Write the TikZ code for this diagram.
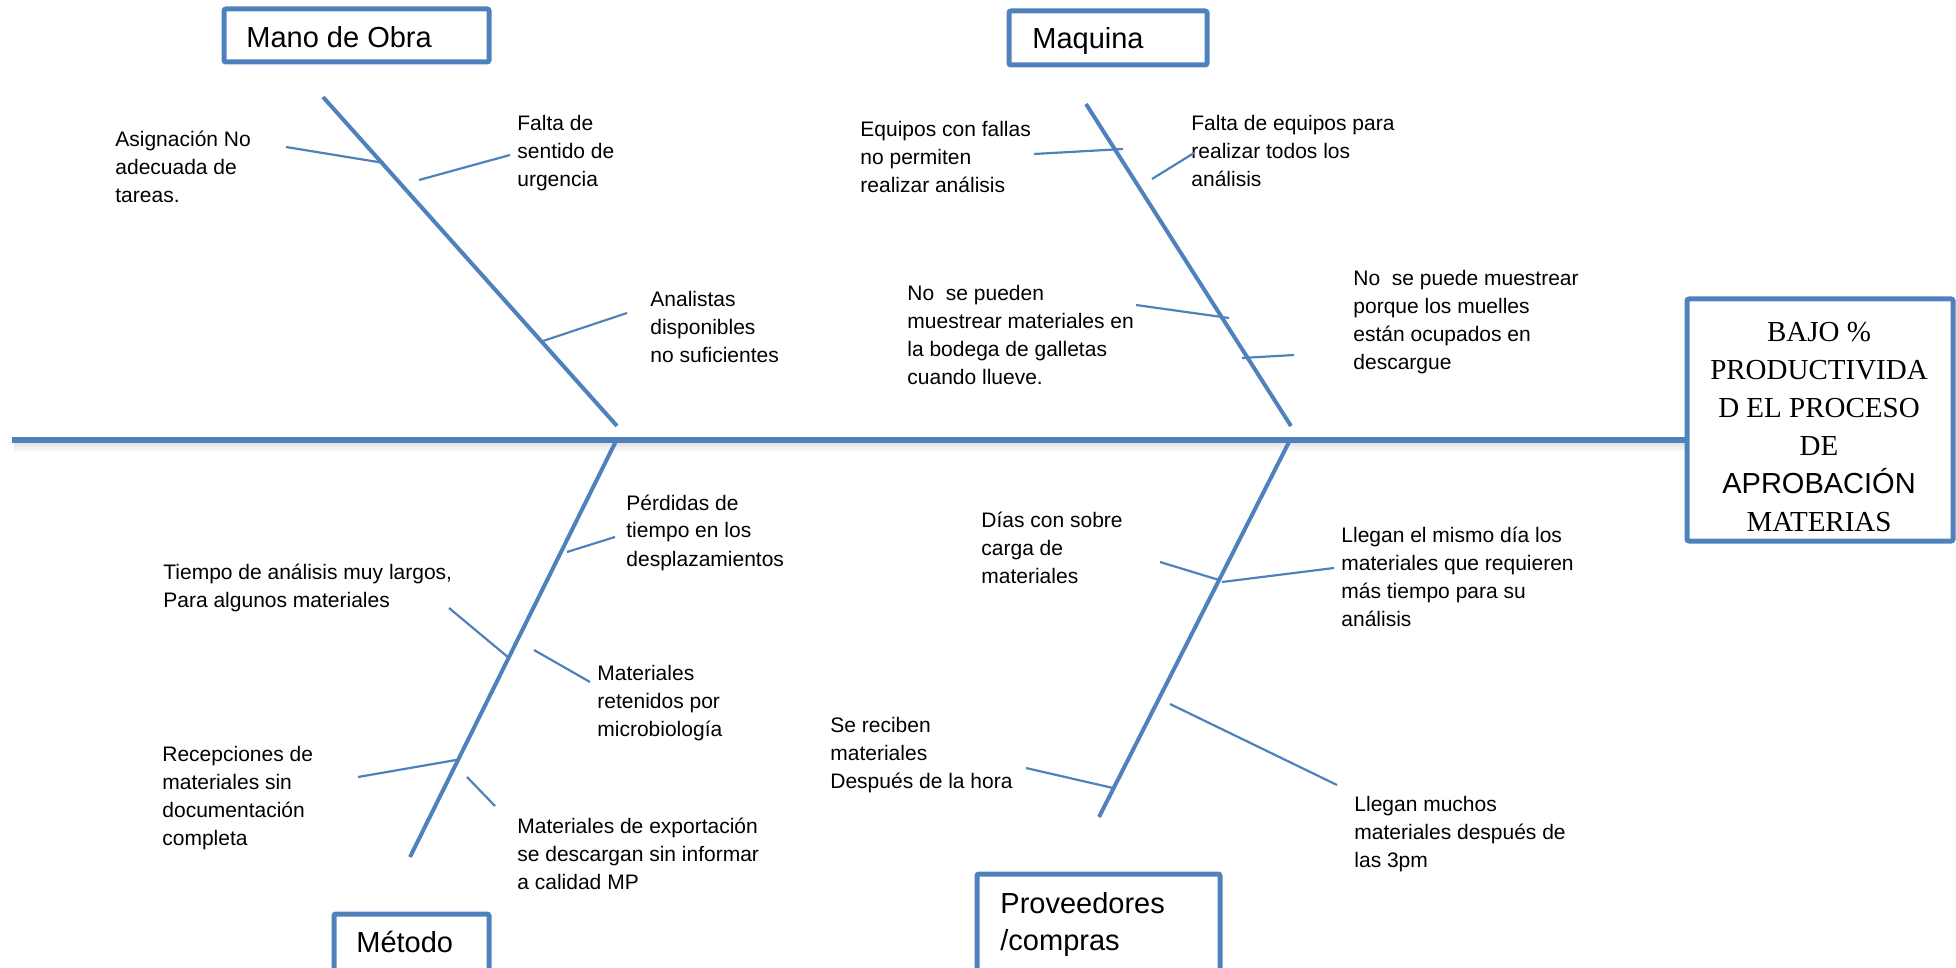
\documentclass[tikz,border=0pt]{standalone}
\usepackage{fontspec}
\setmainfont{Liberation Sans}
\newfontfamily\serifbox{Liberation Serif}
\newfontfamily\sansbox{Liberation Sans}
\definecolor{obBlue}{HTML}{4F81BD}
\begin{document}
% multi-line nodes are placed by the baseline of their last line
\begin{tikzpicture}[x=0.5pt,y=-0.5pt,
  bone/.style={draw=obBlue, line width=2.75pt},
  boneshadow/.style={draw=black, line width=1pt},
  rib/.style={draw=obBlue, line width=2pt},
  twig/.style={draw=obBlue, line width=1.1pt},
  catbox/.style={draw=obBlue, line width=2.5pt, rounded corners=1pt},
  cause/.style={anchor=base west, align=left, inner sep=0pt,
                font=\fontsize{10.5}{14}\selectfont},
  cat/.style={anchor=base west, align=left, inner sep=0pt,
              font=\fontsize{14.5}{18.5}\selectfont},
]
\clip (0,0) rectangle (1956,968);
\useasboundingbox (0,0) rectangle (1956,968);

% ---------- spine with a soft shadow ----------
\coordinate (tail) at (12,440);
\coordinate (head) at (1686,440);
\draw[boneshadow, opacity=0.10] (14,444) -- (1686,444);
\draw[boneshadow, opacity=0.08] (14,446) -- (1686,446);
\draw[boneshadow, opacity=0.05] (14,448) -- (1686,448);
\draw[boneshadow, opacity=0.03] (14,450) -- (1686,450);
\draw[bone] (tail) -- (head);

% ---------- effect box ----------
\draw[catbox] (1687,299) rectangle (1953,541);
\node (efecto) [anchor=base, align=center, inner sep=0pt,
  font=\serifbox\fontsize{14.5}{19}\selectfont] at (1819,531)
  {BAJO \%\\PRODUCTIVIDA\\D EL PROCESO\\DE\\{\sansbox APROBACIÓN}\\MATERIAS};

% ---------- category boxes ----------
\draw[catbox] (224,9) rectangle (489,62);
\node (mano) [cat] at (246,48) {Mano de Obra};

\draw[catbox] (1009,11) rectangle (1207,65);
\node (maquina) [cat] at (1032,49) {Maquina};

\draw[catbox] (334,914) rectangle (489,990);
\node (metodo) [cat] at (356,952) {Método};

\draw[catbox] (977,874) rectangle (1220,990);
\node (prov) [cat] at (1000,950) {Proveedores\\/compras};

% ---------- main ribs ----------
\coordinate (manoA) at (323,97);   \coordinate (manoB) at (617,426);
\coordinate (maqA) at (1086,104);  \coordinate (maqB) at (1291,426);
\coordinate (metA) at (616,441);   \coordinate (metB) at (410,857);
\coordinate (provA) at (1289,442); \coordinate (provB) at (1099,817);
\draw[rib] (manoA) -- (manoB);
\draw[rib] (maqA) -- (maqB);
\draw[rib] (metA) -- (metB);
\draw[rib] (provA) -- (provB);

% ---------- Mano de Obra causes ----------
\node (c11) [cause] at (115,203) {Asignación No\\adecuada de\\tareas.};
\node (c12) [cause] at (517,187) {Falta de\\sentido de\\urgencia};
\node (c13) [cause] at (650,363) {Analistas\\disponibles\\no suficientes};
\coordinate (t11a) at (286,147); \coordinate (t11b) at (384,163);
\coordinate (t12a) at (419,180); \coordinate (t12b) at (510,155);
\coordinate (t13a) at (543,341); \coordinate (t13b) at (627,313);
\draw[twig] (t11a) -- (t11b);
\draw[twig] (t12a) -- (t12b);
\draw[twig] (t13a) -- (t13b);

% ---------- Maquina causes ----------
\node (c21) [cause] at (860,193) {Equipos con fallas\\no permiten\\realizar análisis};
\node (c22) [cause] at (1191,187) {Falta de equipos para\\realizar todos los\\análisis};
\node (c23) [cause] at (907,385) {No\ \ se pueden\\muestrear materiales en\\la bodega de galletas\\cuando llueve.};
\node (c24) [cause] at (1353,370) {No\ \ se puede muestrear\\porque los muelles\\están ocupados en\\descargue};
\coordinate (t21a) at (1034,154); \coordinate (t21b) at (1123,149);
\coordinate (t22a) at (1152,179); \coordinate (t22b) at (1194,153);
\coordinate (t23a) at (1136,305); \coordinate (t23b) at (1229,318);
\coordinate (t24a) at (1242,358); \coordinate (t24b) at (1294,355);
\draw[twig] (t21a) -- (t21b);
\draw[twig] (t22a) -- (t22b);
\draw[twig] (t23a) -- (t23b);
\draw[twig] (t24a) -- (t24b);

% ---------- Método causes ----------
\node (c31) [cause] at (626,566) {Pérdidas de\\tiempo en los\\desplazamientos};
\node (c32) [cause] at (163,607) {Tiempo de análisis muy largos,\\Para algunos materiales};
\node (c33) [cause] at (597,736) {Materiales\\retenidos por\\microbiología};
\node (c34) [cause] at (162,845) {Recepciones de\\materiales sin\\documentación\\completa};
\node (c35) [cause] at (517,889) {Materiales de exportación\\se descargan sin informar\\a calidad MP};
\coordinate (t31a) at (567,552); \coordinate (t31b) at (615,537);
\coordinate (t32a) at (449,608); \coordinate (t32b) at (509,658);
\coordinate (t33a) at (534,650); \coordinate (t33b) at (590,682);
\coordinate (t34a) at (358,777); \coordinate (t34b) at (456,760);
\coordinate (t35a) at (467,777); \coordinate (t35b) at (495,806);
\draw[twig] (t31a) -- (t31b);
\draw[twig] (t32a) -- (t32b);
\draw[twig] (t33a) -- (t33b);
\draw[twig] (t34a) -- (t34b);
\draw[twig] (t35a) -- (t35b);

% ---------- Proveedores causes ----------
\node (c41) [cause] at (981,583) {Días con sobre\\carga de\\materiales};
\node (c42) [cause] at (1341,626) {Llegan el mismo día los\\materiales que requieren\\más tiempo para su\\análisis};
\node (c43) [cause] at (830,788) {Se reciben\\materiales\\Después de la hora};
\node (c44) [cause] at (1354,867) {Llegan muchos\\materiales después de\\las 3pm};
\coordinate (t41a) at (1160,562); \coordinate (t41b) at (1219,580);
\coordinate (t42a) at (1222,582); \coordinate (t42b) at (1334,568);
\coordinate (t43a) at (1026,768); \coordinate (t43b) at (1113,788);
\coordinate (t44a) at (1170,704); \coordinate (t44b) at (1337,785);
\draw[twig] (t41a) -- (t41b);
\draw[twig] (t42a) -- (t42b);
\draw[twig] (t43a) -- (t43b);
\draw[twig] (t44a) -- (t44b);
\end{tikzpicture}
\end{document}
